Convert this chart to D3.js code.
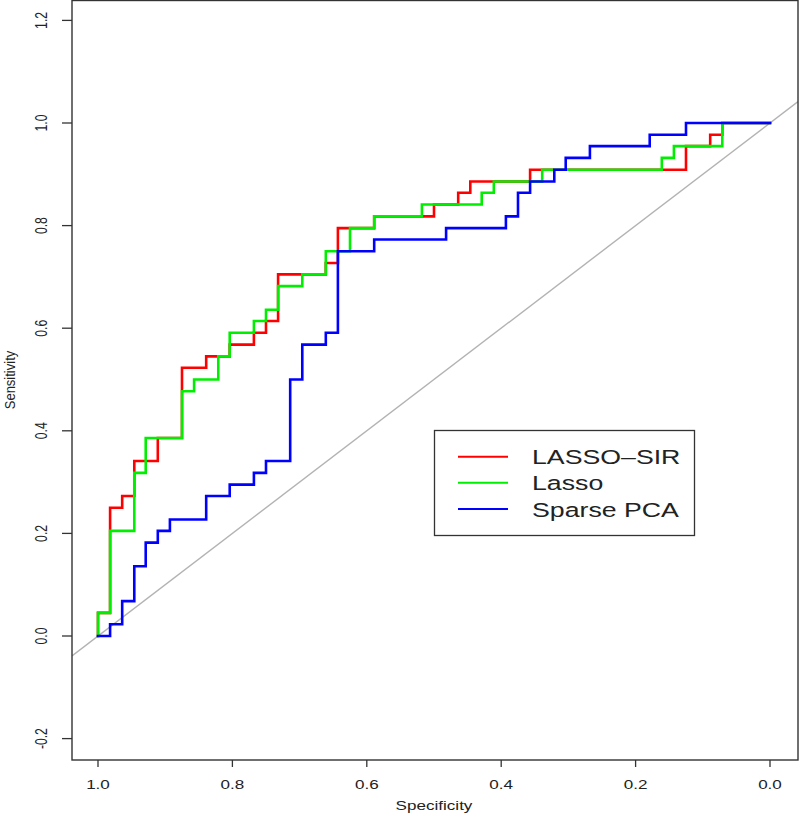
<!DOCTYPE html>
<html>
<head>
<meta charset="utf-8">
<script src="https://cdn.jsdelivr.net/npm/d3@7"></script>
<style>
  html, body { margin: 0; padding: 0; background: #fff; }
  svg { display: block; }
  text { font-family: "Liberation Sans", Arial, Helvetica, sans-serif; fill: #222; }
</style>
</head>
<body>
<svg id="chart" width="800" height="816"></svg>
<script>
// ---- Data (corners of ROC step curves: specificity, sensitivity) ----
const seriesNames = ["LASSO-SIR", "Lasso", "Sparse PCA"];
const seriesColors = ["#ff0000", "#00ee00", "#0000ff"];

const lassoSirSpec = [1.000,1.000,0.982,0.982,0.964,0.964,0.946,0.946,0.911,0.911,0.875,0.875,0.839,0.839,0.804,0.804,0.768,0.768,0.750,0.750,0.732,0.732,0.661,0.661,0.643,0.643,0.589,0.589,0.500,0.500,0.464,0.464,0.446,0.446,0.357,0.357,0.125,0.125,0.089,0.089,0.071,0.071,0.000];
const lassoSirSens = [0.000,0.045,0.045,0.250,0.250,0.273,0.273,0.341,0.341,0.386,0.386,0.523,0.523,0.545,0.545,0.568,0.568,0.591,0.591,0.614,0.614,0.705,0.705,0.727,0.727,0.795,0.795,0.818,0.818,0.841,0.841,0.864,0.864,0.886,0.886,0.909,0.909,0.955,0.955,0.977,0.977,1.000,1.000];

const lassoSpec = [1.000,1.000,0.982,0.982,0.946,0.946,0.929,0.929,0.875,0.875,0.857,0.857,0.821,0.821,0.804,0.804,0.768,0.768,0.750,0.750,0.732,0.732,0.696,0.696,0.661,0.661,0.625,0.625,0.589,0.589,0.518,0.518,0.429,0.429,0.411,0.411,0.339,0.339,0.161,0.161,0.143,0.143,0.071,0.071,0.000];
const lassoSens = [0.000,0.045,0.045,0.205,0.205,0.318,0.318,0.386,0.386,0.477,0.477,0.500,0.500,0.545,0.545,0.591,0.591,0.614,0.614,0.636,0.636,0.682,0.682,0.705,0.705,0.750,0.750,0.795,0.795,0.818,0.818,0.841,0.841,0.864,0.864,0.886,0.886,0.909,0.909,0.932,0.932,0.955,0.955,1.000,1.000];

const spcaSpec = [1.000,0.982,0.982,0.964,0.964,0.946,0.946,0.929,0.929,0.911,0.911,0.893,0.893,0.839,0.839,0.804,0.804,0.768,0.768,0.750,0.750,0.714,0.714,0.696,0.696,0.661,0.661,0.643,0.643,0.589,0.589,0.482,0.482,0.393,0.393,0.375,0.375,0.357,0.357,0.321,0.321,0.304,0.304,0.268,0.268,0.179,0.179,0.125,0.125,0.000];
const spcaSens = [0.000,0.000,0.023,0.023,0.068,0.068,0.136,0.136,0.182,0.182,0.205,0.205,0.227,0.227,0.273,0.273,0.295,0.295,0.318,0.318,0.341,0.341,0.500,0.500,0.568,0.568,0.591,0.591,0.750,0.750,0.773,0.773,0.795,0.795,0.818,0.818,0.864,0.864,0.886,0.886,0.909,0.909,0.932,0.932,0.955,0.955,0.977,0.977,1.000,1.000];

const xTicks = [1.0, 0.8, 0.6, 0.4, 0.2, 0.0];
const yTicks = [-0.2, 0.0, 0.2, 0.4, 0.6, 0.8, 1.0, 1.2];

// ---- Layout ----
const box = { left: 72, right: 798, top: 0.5, bottom: 760 };
const x = d3.scaleLinear().domain([1, 0]).range([98, 770]);
const y = d3.scaleLinear().domain([0, 1]).range([636, 123]);
const sx = 1.4; // horizontal stretch of the text in the original image

const svg = d3.select("#chart");

svg.append("defs").append("clipPath").attr("id", "plotclip")
  .append("rect")
  .attr("x", box.left).attr("y", box.top)
  .attr("width", box.right - box.left).attr("height", box.bottom - box.top);

// diagonal reference line (abline a=1, b=-1 in spec/sens space)
const dLeft = x.invert(box.left), dRight = x.invert(box.right);
svg.append("line")
  .attr("clip-path", "url(#plotclip)")
  .attr("x1", x(dLeft)).attr("y1", y(1 - dLeft))
  .attr("x2", x(dRight)).attr("y2", y(1 - dRight))
  .attr("stroke", "#b3b3b3").attr("stroke-width", 1.4);

// curves
const series = [
  { spec: lassoSirSpec, sens: lassoSirSens },
  { spec: lassoSpec, sens: lassoSens },
  { spec: spcaSpec, sens: spcaSens }
];
const line = d3.line().x(d => x(d[0])).y(d => y(d[1]));
series.forEach((s, i) => {
  const pts = s.spec.map((v, k) => [v, s.sens[k]]);
  svg.append("path")
    .datum(pts)
    .attr("clip-path", "url(#plotclip)")
    .attr("d", line)
    .attr("fill", "none")
    .attr("stroke", seriesColors[i])
    .attr("stroke-width", 2.6)
    .attr("stroke-linejoin", "miter")
    .attr("stroke-linecap", "square");
});

// box
svg.append("rect")
  .attr("x", box.left).attr("y", box.top)
  .attr("width", box.right - box.left).attr("height", box.bottom - box.top)
  .attr("fill", "none").attr("stroke", "#333").attr("stroke-width", 1.4);

// x axis
const xAxis = svg.append("g").attr("class", "x-axis");
xAxis.selectAll("line.tick").data(xTicks).join("line")
  .attr("class", "tick")
  .attr("x1", d => x(d)).attr("x2", d => x(d))
  .attr("y1", box.bottom).attr("y2", box.bottom + 7)
  .attr("stroke", "#333").attr("stroke-width", 1.3);
xAxis.selectAll("text").data(xTicks).join("text")
  .attr("transform", d => `translate(${x(d)},788.5) scale(${sx},1)`)
  .attr("text-anchor", "middle")
  .attr("font-size", 12.2)
  .text(d => d.toFixed(1));
svg.append("text")
  .attr("transform", `translate(${x(0.5)},809.5) scale(${sx},1)`)
  .attr("text-anchor", "middle")
  .attr("font-size", 12.2)
  .text("Specificity");

// y axis
const yAxis = svg.append("g").attr("class", "y-axis");
yAxis.selectAll("line.tick").data(yTicks).join("line")
  .attr("class", "tick")
  .attr("x1", box.left - 10).attr("x2", box.left)
  .attr("y1", d => y(d)).attr("y2", d => y(d))
  .attr("stroke", "#333").attr("stroke-width", 1.3);
yAxis.selectAll("text").data(yTicks).join("text")
  .attr("transform", d => `translate(47,${y(d)}) scale(${sx},1) rotate(-90)`)
  .attr("text-anchor", "middle")
  .attr("font-size", 12.2)
  .text(d => d.toFixed(1));
svg.append("text")
  .attr("transform", `translate(15,380) scale(1.15,1) rotate(-90)`)
  .attr("text-anchor", "middle")
  .attr("font-size", 13)
  .text("Sensitivity");

// legend
const lg = svg.append("g").attr("class", "legend");
lg.append("rect")
  .attr("x", 434.5).attr("y", 430.5).attr("width", 260).attr("height", 105)
  .attr("fill", "#fff").attr("stroke", "#333").attr("stroke-width", 1.3);
const legY = [456.7, 482.7, 509];
seriesNames.forEach((name, i) => {
  lg.append("line")
    .attr("x1", 458).attr("x2", 508)
    .attr("y1", legY[i]).attr("y2", legY[i])
    .attr("stroke", seriesColors[i]).attr("stroke-width", 2);
  lg.append("text")
    .attr("transform", `translate(532,${legY[i] + 7.5}) scale(1.37,1)`)
    .attr("font-size", 19.5)
    .text(name === "LASSO-SIR" ? "LASSO\u2013SIR" : name);
});
</script>
</body>
</html>
